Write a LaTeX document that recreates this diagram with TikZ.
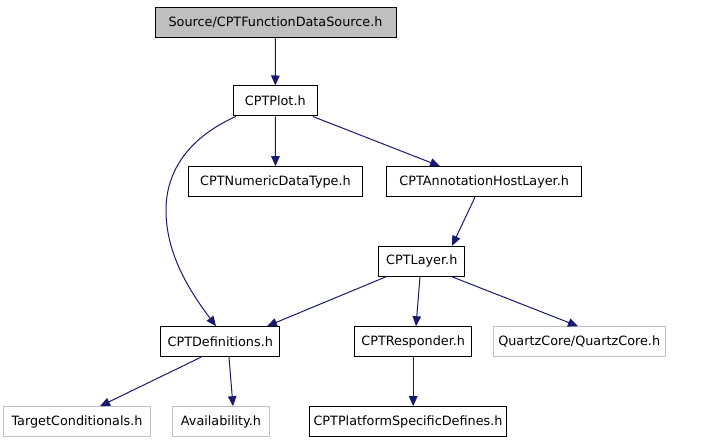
\documentclass[tikz,border=0pt]{standalone}
\usepackage{fontspec}
\setmainfont{DejaVu Sans}
\usetikzlibrary{arrows.meta}
\definecolor{edgeblue}{HTML}{191970}
\definecolor{srcfill}{HTML}{BFBFBF}
\definecolor{greyline}{HTML}{C0C0C0}
\tikzset{
  hbox/.style={draw=black, line width=1pt, inner sep=0pt, minimum height=30pt, font=\fontsize{12.8}{14}\selectfont},
  extbox/.style={hbox, draw=greyline},
  srcbox/.style={hbox, fill=srcfill},
  dep/.style={draw=edgeblue, line width=1pt, -{Triangle[length=10pt,width=8.5pt]}}
}
\begin{document}
\begin{tikzpicture}[x=1pt,y=-1pt]
\useasboundingbox (0,0) rectangle (720,443);
\node[srcbox, minimum width=241pt] (src) at (275.5,22.5) {Source/CPTFunctionDataSource.h};
\node[hbox, minimum width=84pt] (plot) at (275.3,101) {CPTPlot.h};
\node[hbox, minimum width=174pt] (num) at (275.5,181.7) {CPTNumericDataType.h};
\node[hbox, minimum width=195pt] (ann) at (484.2,181.7) {CPTAnnotationHostLayer.h};
\node[hbox, minimum width=86pt] (layer) at (421.8,261.3) {CPTLayer.h};
\node[hbox, minimum width=119pt] (defs) at (220.3,341.7) {CPTDefinitions.h};
\node[hbox, minimum width=117pt] (resp) at (413.2,341.7) {CPTResponder.h};
\node[extbox, minimum width=172pt] (qc) at (579.2,341.7) {QuartzCore/QuartzCore.h};
\node[extbox, minimum width=147pt] (tc) at (77,421.7) {TargetConditionals.h};
\node[extbox, minimum width=97pt] (avail) at (221,421.7) {Availability.h};
\node[hbox, minimum width=197pt] (psd) at (408,421.7) {CPTPlatformSpecificDefines.h};

\draw[dep] (src) -- (plot);
\draw[dep] (plot) -- (num);
\draw[dep] (plot.south east) ++(-5,0) coordinate (pa) (pa) -- (ann.north -| 440,0);
\draw[dep] (plot.south west) ++(3,0) coordinate (pb) (pb) .. controls (190,137) and (166,170) .. (166,210) .. controls (166,250) and (185,285) .. (defs.north -| 216,0);
\draw[dep] (ann.south -| 475,0) coordinate (a1) (a1) -- (layer.north -| 452,0);
\draw[dep] (layer.south -| 386,0) coordinate (l1) (l1) -- (defs.north -| 267,0);
\draw[dep] (layer.south -| 420,0) coordinate (l2) (l2) -- (resp.north -| 416,0);
\draw[dep] (layer.south -| 452,0) coordinate (l3) (l3) -- (qc.north -| 578,0);
\draw[dep] (defs.south -| 201,0) coordinate (d1) (d1) -- (tc.north -| 100,0);
\draw[dep] (defs.south -| 229,0) coordinate (d2) (d2) -- (avail.north -| 233,0);
\draw[dep] (resp) -- (psd.north -| resp);
\end{tikzpicture}
\end{document}
